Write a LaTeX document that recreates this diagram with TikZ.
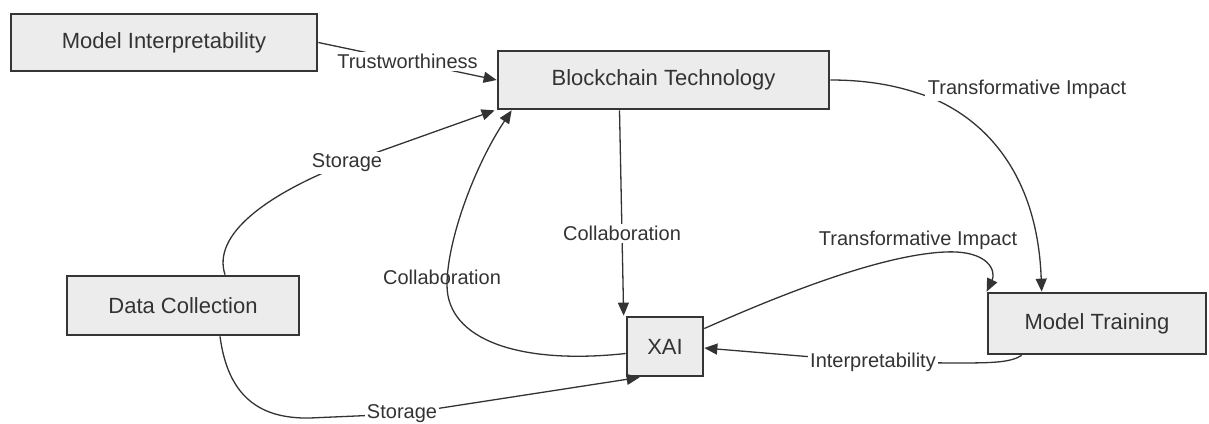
\documentclass[tikz,border=0pt]{standalone}
\usepackage{fontspec}
\setmainfont{Liberation Sans}
\usetikzlibrary{arrows.meta}
\definecolor{boxline}{HTML}{353535}
\definecolor{boxfill}{HTML}{ECECEC}
\definecolor{txt}{HTML}{333333}
\definecolor{edge}{HTML}{333333}
\begin{document}
\begin{tikzpicture}[x=1pt,y=-1pt,
  box/.style={draw=boxline, line width=2.7pt, fill=boxfill, text=txt,
    font=\fontsize{22}{26}\selectfont, inner sep=0pt},
  lab/.style={fill=white, text=txt, font=\fontsize{20}{24}\selectfont, inner sep=2pt},
  labclear/.style={text=txt, font=\fontsize{20}{24}\selectfont, inner sep=2pt},
  conn/.style={draw=edge, line width=1.3pt},
  arr/.style={conn, -{Triangle[length=13pt,width=11pt]}}]
\useasboundingbox (0,0) rectangle (1209,423);

% boxes
\node[box, minimum width=306, minimum height=57] (mi)  at (164,42.5)   {Model Interpretability};
\node[box, minimum width=331, minimum height=58] (bt)  at (663.5,80)   {Blockchain Technology};
\node[box, minimum width=232, minimum height=59] (dc)  at (183,305.5)  {Data Collection};
\node[box, minimum width=76,  minimum height=59] (xai) at (665,346.5)  {XAI};
\node[box, minimum width=218, minimum height=61] (mt)  at (1097,323.5) {Model Training};

% Model Interpretability -> Blockchain Technology
\draw[arr] (mi.east) -- node[lab] {Trustworthiness} (bt.west);

% Data Collection -> Blockchain Technology
\draw[arr] ([xshift=42]dc.north) .. controls (212,235) and (265,195) .. (347,163)
  node[lab] {Storage} -- ([xshift=-2]bt.south west);

% XAI -> Blockchain Technology
\draw[arr] ([yshift=-7]xai.west) .. controls (520,365) and (447,340) .. (447,285)
  .. controls (447,240) and (475,165) .. ([xshift=15]bt.south west);
\node[labclear] (collabl) at (442,277) {Collaboration};

% Blockchain Technology -> XAI
\draw[arr] ([xshift=-44]bt.south) -- node[lab, pos=0.6] {Collaboration} ([xshift=-2]xai.north west);

% Blockchain Technology -> Model Training
\draw[arr] (bt.east) .. controls (880,80) and (910,90) .. (932,98)
  .. controls (995,125) and (1038,185) .. ([xshift=55]mt.north west);
\node[lab, inner sep=3pt] (tia) at (1027,89) {Transformative Impact};

% XAI -> Model Training
\draw[arr] ([yshift=18]xai.east) .. controls (780,295) and (880,255) .. (945,252)
  .. controls (990,250) and (996,272) .. (mt.north west);
\node[labclear] (tib) at (918,240) {Transformative Impact};

% Model Training -> XAI
\draw[arr] ([xshift=35]mt.south west) .. controls (1010,363) and (990,363) .. (950,363)
  -- (873,362) node[lab] {Interpretability} -- ([yshift=-1.5]xai.east);

% Data Collection -> XAI
\draw[arr] ([xshift=37]dc.south) .. controls (228,397) and (260,419) .. (310,418)
  -- (402,414) node[lab] {Storage} -- ([xshift=14]xai.south west);
\end{tikzpicture}
\end{document}
